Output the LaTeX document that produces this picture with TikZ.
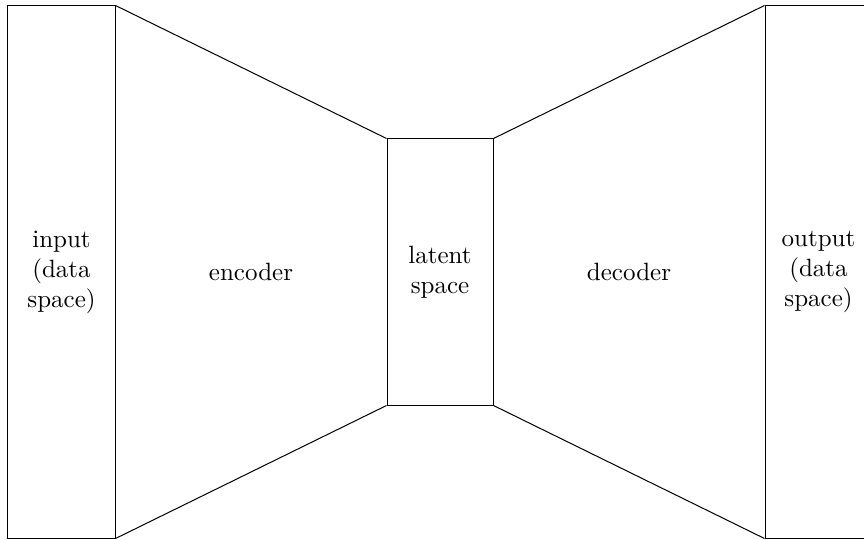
\documentclass[tikz,border=0pt]{standalone}
\begin{document}
\begin{tikzpicture}[x=0.4pt,y=-0.4pt,
  blockbox/.style={draw,rectangle,inner sep=0pt,align=center,minimum width=42.8pt},
  label/.style={align=center,inner sep=0pt}]
\useasboundingbox (0,0) rectangle (864,539);
\node[blockbox,minimum height=212.8pt] (in) at (61.5,272) {input\\(data\\space)};
\node[blockbox,minimum width=42.4pt,minimum height=106.4pt] (lat) at (440,272) {latent\\space};
\node[blockbox,minimum height=212.8pt] (out) at (818.5,272) {output\\(data\\space)};
\node[label] (enc) at (251,272) {encoder};
\node[label] (dec) at (629,272) {decoder};
\draw (in.north east) -- (lat.north west);
\draw (in.south east) -- (lat.south west);
\draw (lat.north east) -- (out.north west);
\draw (lat.south east) -- (out.south west);
\end{tikzpicture}
\end{document}
